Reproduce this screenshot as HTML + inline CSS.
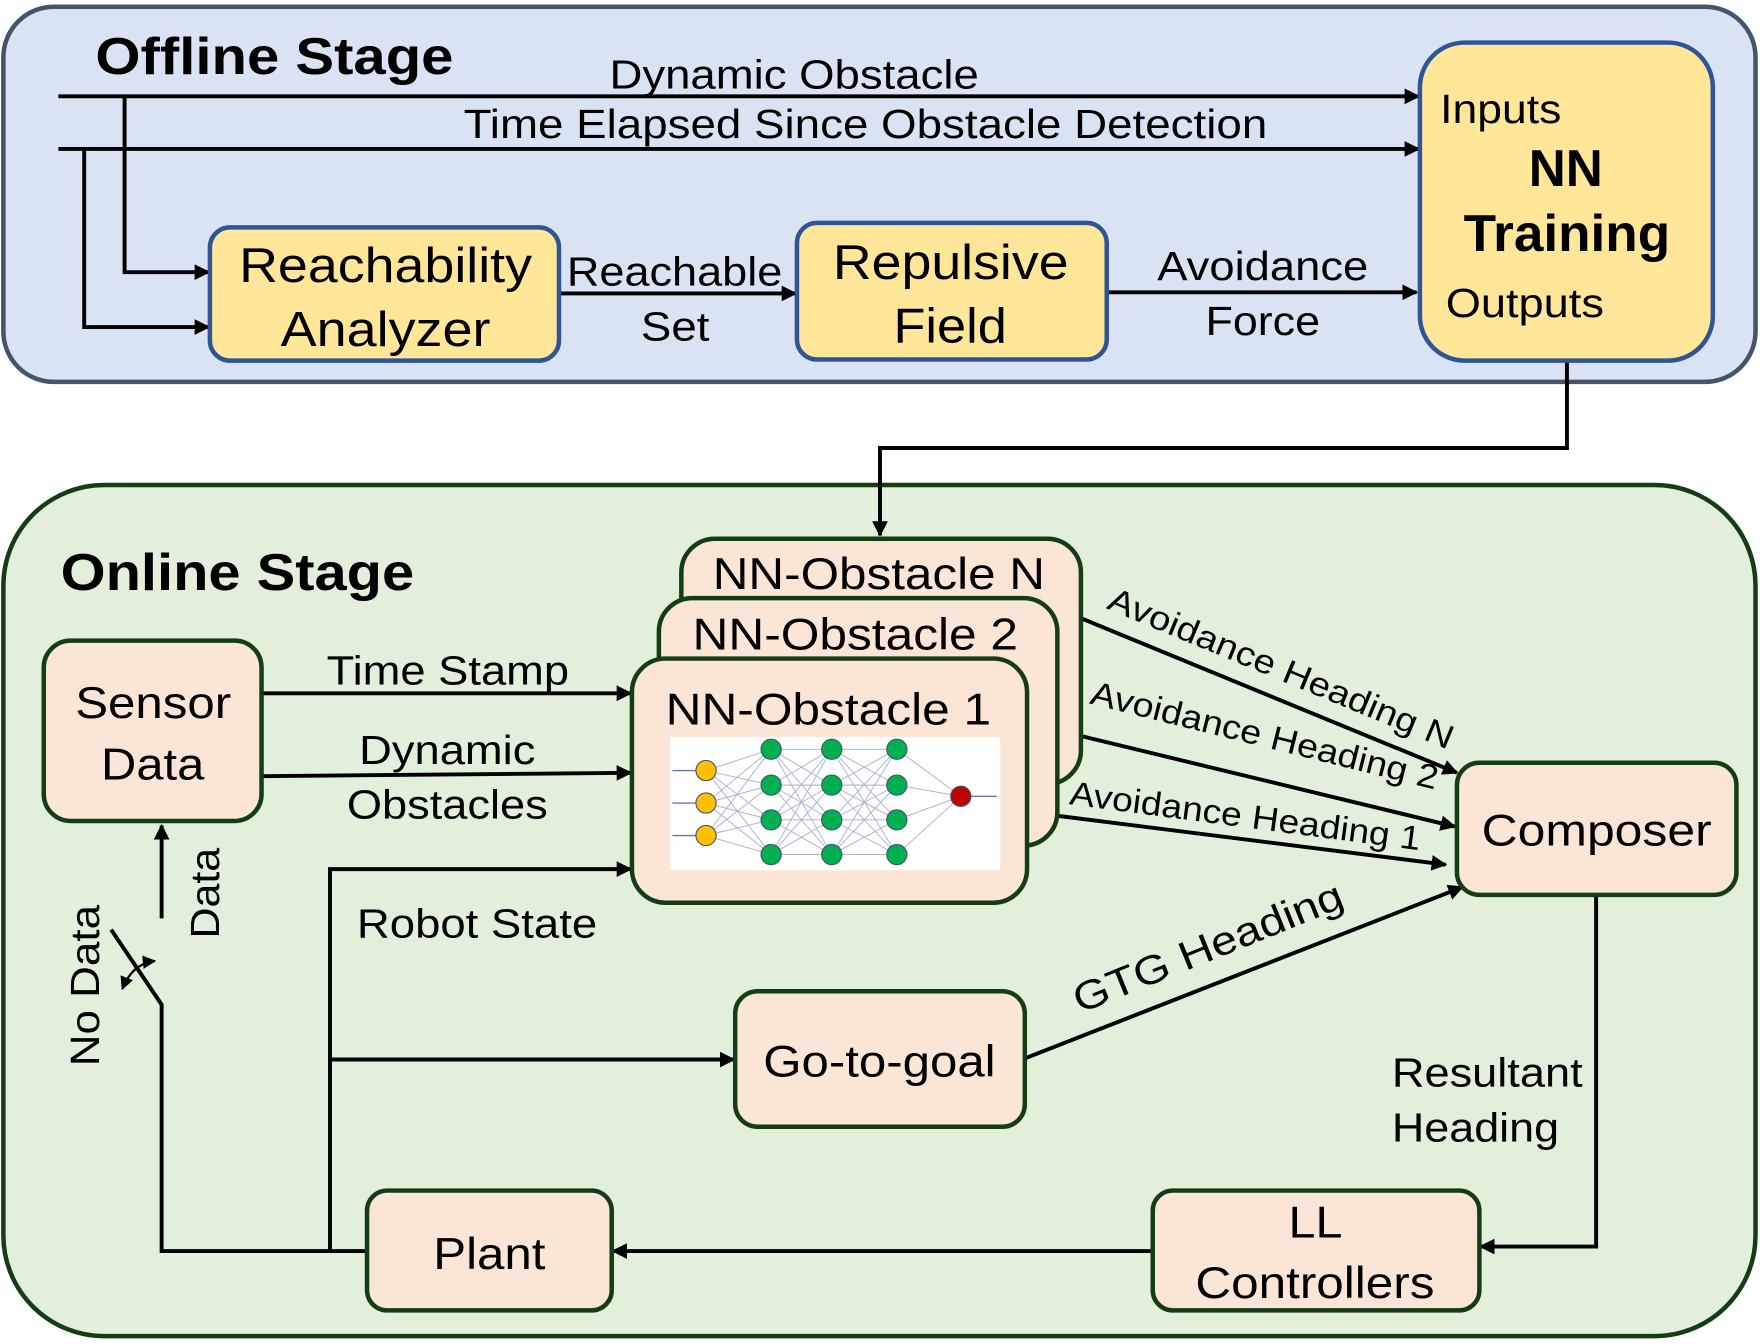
<!DOCTYPE html>
<html><head><meta charset="utf-8"><style>
html,body{margin:0;padding:0;background:#fff}
svg{display:block}
text{font-family:"Liberation Sans",Arial,sans-serif;fill:#000}
</style></head><body>
<svg width="1760" height="1344" viewBox="0 0 1568 1200" preserveAspectRatio="none" xmlns="http://www.w3.org/2000/svg">
<defs>
<marker id="a" viewBox="0 0 10 10" refX="9" refY="5" markerWidth="4" markerHeight="4" orient="auto"><path d="M0 0L10 5L0 10z" fill="#000"/></marker>
<marker id="s" viewBox="0 0 10 10" refX="9" refY="5" markerWidth="6" markerHeight="6" orient="auto-start-reverse"><path d="M0 0L10 5L0 10z" fill="#000"/></marker>
</defs>
<rect x="3" y="6" width="1561" height="335" rx="45" fill="#dae3f3" stroke="#44546a" stroke-width="4"/>
<rect x="3" y="433" width="1561" height="760" rx="90" fill="#e2efda" stroke="#153d15" stroke-width="4"/>
<text x="85" y="66" font-size="46" font-weight="bold" textLength="319" lengthAdjust="spacingAndGlyphs">Offline Stage</text>
<text x="54" y="527" font-size="46" font-weight="bold" textLength="315" lengthAdjust="spacingAndGlyphs">Online Stage</text>

<g stroke="#000" stroke-width="3.5" fill="none">
<path d="M52 86H1264" marker-end="url(#a)"/>
<path d="M52 133H1264" marker-end="url(#a)"/>
<path d="M111 86V243H186" marker-end="url(#a)"/>
<path d="M75 133V292H186" marker-end="url(#a)"/>
<path d="M498 262H709" marker-end="url(#a)"/>
<path d="M986 261H1262" marker-end="url(#a)"/>
<path d="M1396 322V400H784V478" marker-end="url(#a)"/>
<path d="M233 619H562" marker-end="url(#a)"/>
<path d="M233 693L562 690" marker-end="url(#a)"/>
<path d="M294 1117V776H562" marker-end="url(#a)"/>
<path d="M294 946H654" marker-end="url(#a)"/>
<path d="M327 1117H144V897L99 830"/>
<path d="M144 820V737" marker-end="url(#a)"/>
<path d="M1422 799V1113H1319" marker-end="url(#a)"/>
<path d="M1027 1117H546" marker-end="url(#a)"/>
<path d="M963 552L1298 690" marker-end="url(#a)"/>
<path d="M942 652L1296 738" marker-end="url(#a)"/>
<path d="M915 725L1288 772" marker-end="url(#a)"/>
<path d="M913 945L1303 792" marker-end="url(#a)"/>
</g>
<path d="M109 883Q118 860 138 858" stroke="#000" stroke-width="2" fill="none" marker-start="url(#s)" marker-end="url(#s)"/>

<g fill="#ffe699" stroke="#2f5597" stroke-width="4">
<rect x="187" y="203" width="311" height="119" rx="18"/>
<rect x="710" y="199" width="276" height="122" rx="18"/>
<rect x="1265" y="38" width="261" height="284" rx="40"/>
</g>
<g font-size="44" lengthAdjust="spacingAndGlyphs">
<text x="213" y="252" textLength="261" lengthAdjust="spacingAndGlyphs">Reachability</text>
<text x="250" y="309" textLength="187" lengthAdjust="spacingAndGlyphs">Analyzer</text>
<text x="742" y="249" textLength="210" lengthAdjust="spacingAndGlyphs">Repulsive</text>
<text x="796" y="306" textLength="101" lengthAdjust="spacingAndGlyphs">Field</text>
</g>
<text x="1283" y="110" font-size="36" textLength="108" lengthAdjust="spacingAndGlyphs">Inputs</text>
<text x="1362" y="166" font-size="46" font-weight="bold" textLength="66" lengthAdjust="spacingAndGlyphs">NN</text>
<text x="1304" y="224" font-size="46" font-weight="bold" textLength="184" lengthAdjust="spacingAndGlyphs">Training</text>
<text x="1288" y="283" font-size="36" textLength="141" lengthAdjust="spacingAndGlyphs">Outputs</text>
<g font-size="36">
<text x="543" y="79" textLength="329" lengthAdjust="spacingAndGlyphs">Dynamic Obstacle</text>
<text x="413" y="123" textLength="716" lengthAdjust="spacingAndGlyphs">Time Elapsed Since Obstacle Detection</text>
<text x="505" y="255" textLength="192" lengthAdjust="spacingAndGlyphs">Reachable</text>
<text x="571" y="304" textLength="61" lengthAdjust="spacingAndGlyphs">Set</text>
<text x="1031" y="250" textLength="188" lengthAdjust="spacingAndGlyphs">Avoidance</text>
<text x="1074" y="299" textLength="102" lengthAdjust="spacingAndGlyphs">Force</text>
<text x="291" y="611" textLength="216" lengthAdjust="spacingAndGlyphs">Time Stamp</text>
<text x="320" y="682" textLength="157" lengthAdjust="spacingAndGlyphs">Dynamic</text>
<text x="309" y="731" textLength="179" lengthAdjust="spacingAndGlyphs">Obstacles</text>
<text x="318" y="837" textLength="214" lengthAdjust="spacingAndGlyphs">Robot State</text>
<text x="1240" y="970" textLength="170" lengthAdjust="spacingAndGlyphs">Resultant</text>
<text x="1240" y="1019" textLength="149" lengthAdjust="spacingAndGlyphs">Heading</text>
</g>
<text font-size="36" transform="translate(195,838) rotate(-90)" textLength="81" lengthAdjust="spacingAndGlyphs">Data</text>
<text font-size="36" transform="translate(88,952) rotate(-90)" textLength="144" lengthAdjust="spacingAndGlyphs">No Data</text>

<g fill="#fbe5d6" stroke="#153d15" stroke-width="4">
<rect x="607" y="481" width="356" height="219" rx="30"/>
<rect x="587" y="534" width="355" height="221" rx="30"/>
<rect x="563" y="588" width="352" height="218" rx="30"/>
<rect x="39" y="572" width="194" height="161" rx="24"/>
<rect x="1298" y="681" width="249" height="118" rx="20"/>
<rect x="655" y="885" width="258" height="121" rx="20"/>
<rect x="327" y="1063" width="218" height="107" rx="18"/>
<rect x="1027" y="1063" width="291" height="107" rx="18"/>
</g>
<g font-size="40">
<text x="635" y="526" textLength="296" lengthAdjust="spacingAndGlyphs">NN-Obstacle N</text>
<text x="617" y="580" textLength="290" lengthAdjust="spacingAndGlyphs">NN-Obstacle 2</text>
<text x="593" y="647" textLength="290" lengthAdjust="spacingAndGlyphs">NN-Obstacle 1</text>
<text x="67" y="641" textLength="139" lengthAdjust="spacingAndGlyphs">Sensor</text>
<text x="90" y="696" textLength="92" lengthAdjust="spacingAndGlyphs">Data</text>
<text x="1320" y="755" textLength="205" lengthAdjust="spacingAndGlyphs">Composer</text>
<text x="680" y="961" textLength="207" lengthAdjust="spacingAndGlyphs">Go-to-goal</text>
<text x="386" y="1133" textLength="100" lengthAdjust="spacingAndGlyphs">Plant</text>
<text x="1148" y="1105" textLength="48" lengthAdjust="spacingAndGlyphs">LL</text>
<text x="1065" y="1159" textLength="213" lengthAdjust="spacingAndGlyphs">Controllers</text>
</g>
<g font-size="30">
<text transform="translate(985,543) rotate(22.5)" textLength="330" lengthAdjust="spacingAndGlyphs">Avoidance Heading N</text>
<text transform="translate(970,628) rotate(14)" textLength="318" lengthAdjust="spacingAndGlyphs">Avoidance Heading 2</text>
<text transform="translate(952,718) rotate(7.5)" textLength="315" lengthAdjust="spacingAndGlyphs">Avoidance Heading 1</text>
</g>
<text font-size="36" transform="translate(962,905) rotate(-22)" textLength="256" lengthAdjust="spacingAndGlyphs">GTG Heading</text>

<rect x="597" y="658" width="294" height="119" fill="#fff"/>
<g stroke="#8f9ac0" stroke-width="0.8" fill="none" opacity="0.8">
<path d="M629 688L687 669M629 688L687 701M629 688L687 732M629 688L687 763M629 717L687 669M629 717L687 701M629 717L687 732M629 717L687 763M629 746L687 669M629 746L687 701M629 746L687 732M629 746L687 763"/>
<path d="M687 669L741 669M687 669L741 701M687 669L741 732M687 669L741 763M687 701L741 669M687 701L741 701M687 701L741 732M687 701L741 763M687 732L741 669M687 732L741 701M687 732L741 732M687 732L741 763M687 763L741 669M687 763L741 701M687 763L741 732M687 763L741 763"/>
<path d="M741 669L799 669M741 669L799 701M741 669L799 732M741 669L799 763M741 701L799 669M741 701L799 701M741 701L799 732M741 701L799 763M741 732L799 669M741 732L799 701M741 732L799 732M741 732L799 763M741 763L799 669M741 763L799 701M741 763L799 732M741 763L799 763"/>
<path d="M799 669L856 711M799 701L856 711M799 732L856 711M799 763L856 711"/>
<path d="M599 688H620M599 717H620M599 746H620M865 711H888" stroke="#44549a" stroke-width="1.2"/>
</g>
<g stroke="#44546a" stroke-width="1">
<g fill="#ffc000"><circle cx="629" cy="688" r="9"/><circle cx="629" cy="717" r="9"/><circle cx="629" cy="746" r="9"/></g>
<g fill="#00b050">
<circle cx="687" cy="669" r="9"/><circle cx="687" cy="701" r="9"/><circle cx="687" cy="732" r="9"/><circle cx="687" cy="763" r="9"/>
<circle cx="741" cy="669" r="9"/><circle cx="741" cy="701" r="9"/><circle cx="741" cy="732" r="9"/><circle cx="741" cy="763" r="9"/>
<circle cx="799" cy="669" r="9"/><circle cx="799" cy="701" r="9"/><circle cx="799" cy="732" r="9"/><circle cx="799" cy="763" r="9"/>
</g>
<circle cx="856" cy="711" r="9" fill="#c00000"/>
</g>
</svg>
</body></html>
